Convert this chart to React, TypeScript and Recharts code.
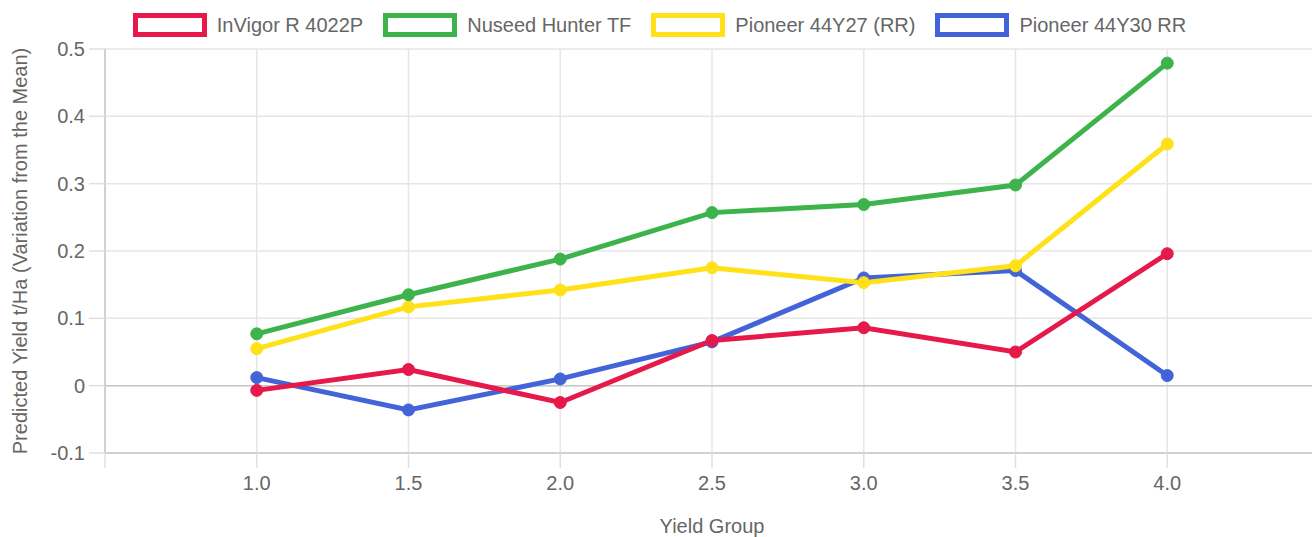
import React from 'react';
import { LineChart, Line, XAxis, YAxis, CartesianGrid, Legend, ReferenceLine } from 'recharts';

const yieldGroups = [1.0, 1.5, 2.0, 2.5, 3.0, 3.5, 4.0];
const invigor = [-0.007, 0.024, -0.025, 0.067, 0.086, 0.05, 0.196];
const nuseed = [0.077, 0.135, 0.188, 0.257, 0.269, 0.298, 0.479];
const pioneer27 = [0.055, 0.117, 0.142, 0.175, 0.153, 0.178, 0.359];
const pioneer30 = [0.012, -0.036, 0.01, 0.065, 0.16, 0.171, 0.015];

const xTicks = [0.5, 1.0, 1.5, 2.0, 2.5, 3.0, 3.5, 4.0];
const yTicks = [-0.1, 0, 0.1, 0.2, 0.3, 0.4, 0.5];

const seriesNames = ['InVigor R 4022P', 'Nuseed Hunter TF', 'Pioneer 44Y27 (RR)', 'Pioneer 44Y30 RR'];
const seriesKeys = ['invigor', 'nuseed', 'p27', 'p30'];
const seriesColors = ['#e6194b', '#3cb44b', '#ffe119', '#4363d8'];
const seriesValues = [invigor, nuseed, pioneer27, pioneer30];

const data = yieldGroups.map((x, i) => {
  const row: Record<string, number> = { x };
  seriesKeys.forEach((k, s) => {
    row[k] = seriesValues[s][i];
  });
  return row;
});

const FONT = "Arial, 'Liberation Sans', Helvetica, sans-serif";
const TEXT = '#666666';

const LegendContent = () => (
  <div
    style={{
      height: 49,
      display: 'flex',
      alignItems: 'center',
      justifyContent: 'center',
      fontFamily: FONT,
      fontSize: 20,
      color: TEXT,
    }}
  >
    {seriesNames.map((name, i) => (
      <div key={name} style={{ display: 'flex', alignItems: 'center', marginLeft: i === 0 ? 0 : 20 }}>
        <div
          style={{
            width: 64,
            height: 14,
            border: `5px solid ${seriesColors[i]}`,
            background: '#ffffff',
            marginRight: 10,
          }}
        />
        <span style={{ whiteSpace: 'nowrap', lineHeight: '24px' }}>{name}</span>
      </div>
    ))}
  </div>
);

const YLabel = (props: any) => {
  const vb = props.viewBox || { x: 0, y: 0, width: 0, height: 0 };
  const cx = 20;
  const cy = vb.y + vb.height / 2;
  return (
    <text
      x={cx}
      y={cy}
      transform={`rotate(-90 ${cx} ${cy})`}
      textAnchor="middle"
      dominantBaseline="central"
      fill={TEXT}
      fontSize={20}
      fontFamily={FONT}
    >
      Predicted Yield t/Ha (Variation from the Mean)
    </text>
  );
};

export default function App() {
  const order = [3, 2, 1, 0];
  return (
    <div style={{ position: 'absolute', left: 0, top: 0, width: 1312, height: 537, overflow: 'hidden', background: '#fff' }}>
      <LineChart width={1320} height={537} data={data} margin={{ top: 0, right: 1, bottom: 0, left: 0 }}>
        <Legend verticalAlign="top" align="center" content={<LegendContent />} />
        <CartesianGrid stroke="#e6e6e6" strokeWidth={1.5} />
        <XAxis
          dataKey="x"
          type="number"
          domain={[0.5, 4.5]}
          ticks={xTicks}
          interval={0}
          allowDataOverflow
          tickFormatter={(v: number) => (v === 0.5 ? '' : v.toFixed(1))}
          tick={{ fill: TEXT, fontSize: 20, fontFamily: FONT }}
          tickSize={15}
          tickMargin={8}
          tickLine={{ stroke: '#e0e0e0', strokeWidth: 1.5 }}
          axisLine={{ stroke: '#c8c8c8', strokeWidth: 1.5 }}
          height={84}
          label={{ value: 'Yield Group', position: 'insideBottom', offset: 4, fill: TEXT, fontSize: 20, fontFamily: FONT }}
        />
        <YAxis
          type="number"
          domain={[-0.1, 0.5]}
          ticks={yTicks}
          interval={0}
          width={105}
          tickFormatter={(v: number) => (v === 0 ? '0' : v.toFixed(1))}
          tick={{ fill: TEXT, fontSize: 20, fontFamily: FONT }}
          tickSize={16}
          tickMargin={4}
          tickLine={{ stroke: '#e0e0e0', strokeWidth: 1.5 }}
          axisLine={{ stroke: '#c8c8c8', strokeWidth: 1.5 }}
          label={<YLabel />}
        />
        <ReferenceLine y={0} stroke="#c8c8c8" strokeWidth={1.5} />
        {order.map((s) => (
          <Line
            key={seriesKeys[s]}
            type="linear"
            dataKey={seriesKeys[s]}
            name={seriesNames[s]}
            stroke={seriesColors[s]}
            strokeWidth={5}
            dot={{ r: 6, fill: seriesColors[s], stroke: seriesColors[s], strokeWidth: 1 }}
            activeDot={false}
            isAnimationActive={false}
          />
        ))}
      </LineChart>
    </div>
  );
}
